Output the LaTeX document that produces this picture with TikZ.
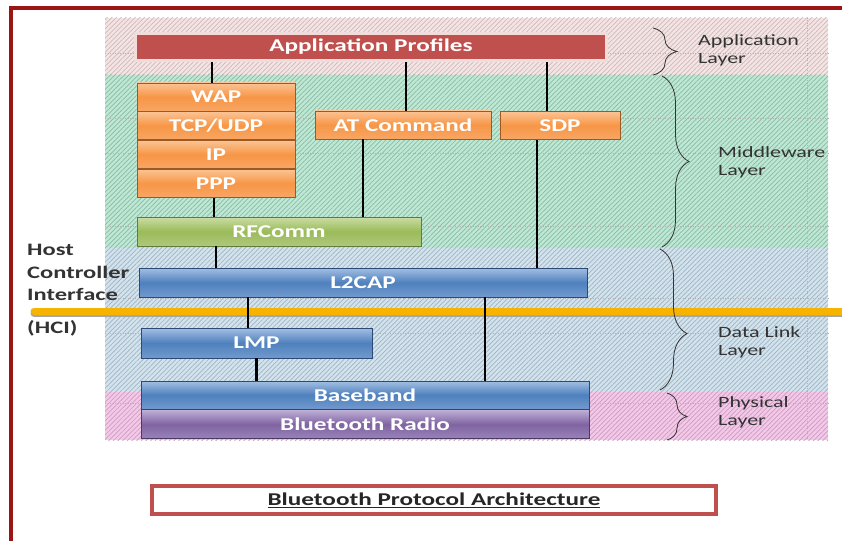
\documentclass[tikz,border=0pt]{standalone}
\usepackage{fontspec}
\setmainfont{Carlito}[FakeStretch=1.4]
\usetikzlibrary{positioning,patterns.meta,decorations.pathreplacing}

\definecolor{framered}{HTML}{9C1515}
\definecolor{capred}{HTML}{C0504D}
\definecolor{appred}{HTML}{C0504D}
\definecolor{apprim}{HTML}{F2DCDB}
\definecolor{labelgray}{HTML}{333333}
\definecolor{appbg}{HTML}{F4E4E4}
\definecolor{appln}{HTML}{CDB9B9}
\definecolor{midbg}{HTML}{BEE8D4}
\definecolor{midln}{HTML}{88B9A3}
\definecolor{dlbg}{HTML}{D3E3ED}
\definecolor{dlln}{HTML}{9FB3C2}
\definecolor{phybg}{HTML}{F4C8E8}
\definecolor{phyln}{HTML}{CB9BBE}
\definecolor{bluetop}{HTML}{A3BFE3}
\definecolor{bluemid}{HTML}{4F81BD}
\definecolor{bluebot}{HTML}{7199CE}
\definecolor{blueline}{HTML}{2C4A75}
\definecolor{orgtop}{HTML}{FBC394}
\definecolor{orgmid}{HTML}{F79646}
\definecolor{orgbot}{HTML}{F8A665}
\definecolor{orgline}{HTML}{9C5A22}
\definecolor{grntop}{HTML}{CADDA5}
\definecolor{grnmid}{HTML}{9BBB59}
\definecolor{grnbot}{HTML}{AFC87C}
\definecolor{grnline}{HTML}{647A37}
\definecolor{purtop}{HTML}{BFB0D6}
\definecolor{purmid}{HTML}{8064A2}
\definecolor{purbot}{HTML}{9A83B9}
\definecolor{purline}{HTML}{4C3A63}
\definecolor{hcigold}{HTML}{F6B400}

\begin{document}
\begin{tikzpicture}[x=1pt, y=-1pt,
    hatch/.style 2 args={fill=#1, postaction={pattern={Lines[angle=45,distance=3.3pt,line width=0.7pt]}, pattern color=#2}},
    gridline/.style={dotted, gray!60, line width=0.5pt},
    box/.style={rectangle, inner sep=0pt, text=white, line width=0.8pt, font=\bfseries\fontsize{18}{18}\selectfont},
    bluebox/.style={box, draw=blueline, top color=bluetop, bottom color=bluebot, middle color=bluemid},
    orangebox/.style={box, draw=orgline, top color=orgtop, bottom color=orgbot, middle color=orgmid, minimum height=28pt},
    greenbox/.style={box, draw=grnline, top color=grntop, bottom color=grnbot, middle color=grnmid},
    purplebox/.style={box, draw=purline, top color=purtop, bottom color=purbot, middle color=purmid},
    wire/.style={line width=2.6pt},
    hostlabel/.style={anchor=base west, inner sep=0pt, text=labelgray, font=\bfseries\fontsize{17.5}{17.5}\selectfont},
    layername/.style={anchor=west, align=left, inner sep=0pt, text=labelgray, font=\fontsize{15.7}{18}\selectfont},
    layerbrace/.style={decorate, decoration={brace, amplitude=#1}, labelgray, line width=0.8pt}
  ]
    \useasboundingbox (0,0) rectangle (842,540);

    % layer bands
    \path[hatch={appbg}{appln}] (105,18) rectangle (828,75);
    \path[hatch={midbg}{midln}] (105,75) rectangle (828,248);
    \path[hatch={dlbg}{dlln}] (105,248) rectangle (828,392);
    \path[hatch={phybg}{phyln}] (105,392) rectangle (828,440);
    \foreach \y in {53,118,153,226,298,333,403}
        \draw[gridline] (105,\y) -- (828,\y);
    \draw[gridline] (807,18) -- (807,440);

    % outer frame
    \draw[framered, line width=3.5pt] (11,545) -- (11,8) -- (850,8);

    % protocol boxes
    \node[box, fill=appred, draw=apprim, line width=3pt, minimum width=471pt, minimum height=27pt] (app) at (371,47) {Application Profiles};

    \node[orangebox, minimum width=158pt] (wap) at (216,97) {WAP};
    \node[orangebox, minimum width=158pt, below=0pt of wap] (tcp) {TCP/UDP};
    \node[orangebox, minimum width=158pt, below=0pt of tcp] (ip) {IP};
    \node[orangebox, minimum width=158pt, below=0pt of ip] (ppp) {PPP};
    \node[orangebox, minimum width=176pt] (atcmd) at (403,125) {AT Command};
    \node[orangebox, minimum width=120pt] (sdp) at (560,125.5) {SDP};

    \node[greenbox, minimum width=284pt, minimum height=29pt] (rfcomm) at (279,231.5) {RFComm};
    \node[bluebox, minimum width=448pt, minimum height=29pt] (l2cap) at (363,282.5) {L2CAP};
    \node[bluebox, minimum width=231pt, minimum height=30pt] (lmp) at (256.5,343) {LMP};
    \node[bluebox, minimum width=448pt, minimum height=28pt] (baseband) at (365,395) {Baseband};
    \node[purplebox, minimum width=448pt, minimum height=29pt, below=0pt of baseband] (radio) {Bluetooth Radio};

    % host controller interface
    \draw[black!35, line width=7pt, line cap=round] (34,313) -- (850,313);
    \draw[hcigold, line width=7pt, line cap=round] (34,311) -- (850,311);

    % connectors
    \draw[wire] ([xshift=-4pt]wap.north) -- ([xshift=-4pt]wap.north |- app.south);
    \draw[wire] ([xshift=3pt]atcmd.north) -- ([xshift=3pt]atcmd.north |- app.south);
    \draw[wire] ([xshift=-13pt]sdp.north) -- ([xshift=-13pt]sdp.north |- app.south);
    \draw[wire] ([xshift=-2pt]ppp.south) -- ([xshift=-2pt]ppp.south |- rfcomm.north);
    \draw[wire] ([xshift=-40pt]atcmd.south) -- ([xshift=-40pt]atcmd.south |- rfcomm.north);
    \draw[wire] ([xshift=-23pt]sdp.south) -- ([xshift=-23pt]sdp.south |- l2cap.north);
    \draw[wire] (rfcomm.south -| ppp.south) -- (l2cap.north -| ppp.south);
    \draw[wire] ([xshift=-8.5pt]lmp.north) -- ([xshift=-8.5pt]lmp.north |- l2cap.south);
    \draw[wire] ([xshift=120pt]baseband.north) -- ([xshift=120pt]baseband.north |- l2cap.south);
    \draw[wire] (lmp.south) -- (lmp.south |- baseband.north);

    % left labels
    \node[hostlabel] (host) at (27,255) {Host};
    \node[hostlabel] (ctrl) at (27,278) {Controller};
    \node[hostlabel] (iface) at (27,300) {Interface};
    \node[hostlabel] (hci) at (27,333) {(HCI)};

    % layer braces
    \draw[layerbrace=24pt] (653,28) -- (653,75);
    \draw[layerbrace=27pt] (662,76) -- (662,247);
    \draw[layerbrace=27pt, decoration={aspect=0.6}] (660,249) -- (660,390);
    \draw[layerbrace=20pt] (667,393) -- (667,440);
    \node[layername] (applayer) at (698,50) {Application\\Layer};
    \node[layername] (midlayer) at (718,162) {Middleware\\Layer};
    \node[layername] (dllayer) at (718,342) {Data Link\\Layer};
    \node[layername] (phylayer) at (718,412) {Physical\\Layer};

    % caption
    \node[draw=capred, line width=4pt, fill=white, inner sep=0pt, minimum width=564pt, minimum height=28pt,
          text=black!85, font=\bfseries\fontsize{18}{18}\selectfont] (caption) at (434,500) {\underline{Bluetooth Protocol Architecture}};
\end{tikzpicture}
\end{document}
